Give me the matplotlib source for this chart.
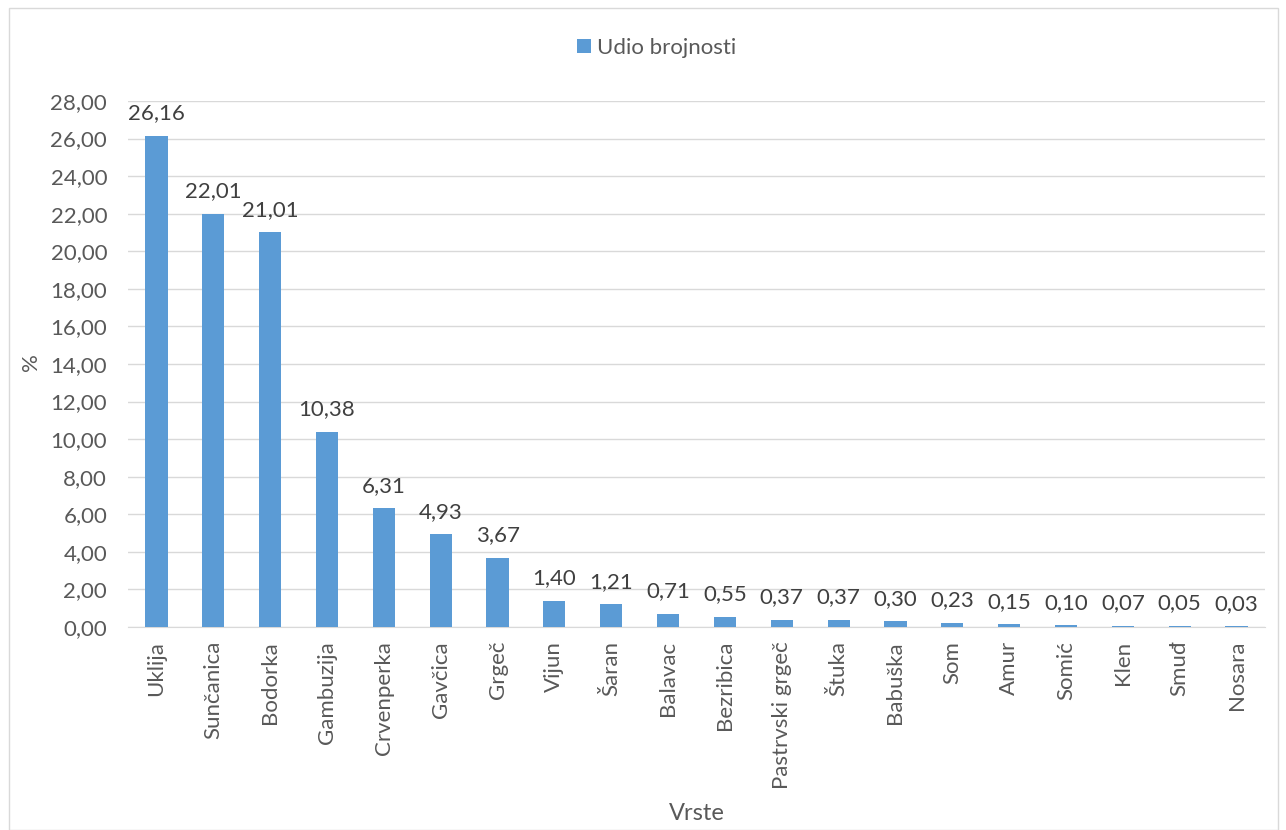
import matplotlib
matplotlib.use("Agg")
import matplotlib.pyplot as plt
from matplotlib.patches import Rectangle

vrste = ["Uklija", "Sunčanica", "Bodorka", "Gambuzija", "Crvenperka", "Gavčica",
         "Grgeč", "Vijun", "Šaran", "Balavac", "Bezribica", "Pastrvski grgeč",
         "Štuka", "Babuška", "Som", "Amur", "Somić", "Klen", "Smuđ", "Nosara"]
udio = [26.16, 22.01, 21.01, 10.38, 6.31, 4.93, 3.67, 1.40, 1.21, 0.71, 0.55,
        0.37, 0.37, 0.30, 0.23, 0.15, 0.10, 0.07, 0.05, 0.03]
y_ticks = list(range(0, 30, 2))

plt.rcParams['font.family'] = ['Lato', 'DejaVu Sans']
txt = "#404040"
lab = "#595959"
bar_col = "#5B9BD5"

fig = plt.figure(figsize=(12.86, 8.30), dpi=100)
ax = fig.add_axes([128/1286, 1 - 627/830, (1265 - 128)/1286, (627 - 101)/830])

x = range(len(vrste))
bars = ax.bar(x, udio, width=0.39, color=bar_col, label="Udio brojnosti", zorder=3)

# podaci iznad stupaca
for xi, v in zip(x, udio):
    ax.annotate(f"{v:.2f}".replace(".", ","), (xi, v), xytext=(0, 9),
                textcoords="offset points", ha="center", va="bottom",
                fontsize=16, color=txt)

ax.set_xlim(-0.5, len(vrste) - 0.5)
ax.set_ylim(0, 28)
ax.set_yticks(y_ticks)
ax.set_yticklabels([f"{t:.2f}".replace(".", ",") for t in y_ticks], fontsize=16, color=lab)
ax.set_xticks(list(x))
ax.set_xticklabels(vrste, rotation=90, fontsize=16, color=lab)
ax.tick_params(axis="y", length=0, pad=15)
ax.tick_params(axis="x", length=0, pad=10)
ax.grid(axis="y", color="#D9D9D9", linewidth=1, zorder=0)
for s in ["top", "right", "left"]:
    ax.spines[s].set_visible(False)
ax.spines["bottom"].set_color("#D9D9D9")

fig.text(31/1286, 1 - 362/830, "%", rotation=90, ha="center", va="center", fontsize=16, color=lab)
fig.text(697/1286, 1 - 813/830, "Vrste", ha="center", va="center", fontsize=17, color=lab)

fig.legend(handles=[bars], labels=["Udio brojnosti"], loc="center",
           bbox_to_anchor=(657/1286, 1 - 48/830), frameon=False, fontsize=16,
           handlelength=0.6, handleheight=0.6, handletextpad=0.3, labelcolor=lab)

fig.patches.append(Rectangle((9/1286, 0), (1278 - 9)/1286, 1 - 8/830,
                             transform=fig.transFigure, fill=False,
                             edgecolor="#D9D9D9", linewidth=1))

fig.savefig("out.png", dpi=100)
